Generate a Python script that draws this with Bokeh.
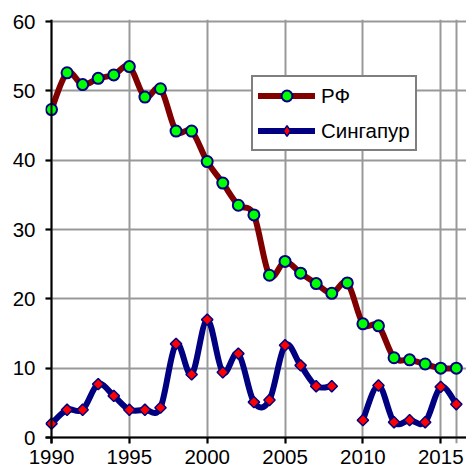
import numpy as np
from bokeh.plotting import figure
from bokeh.models import (Range1d, FixedTicker, Span, Legend, LegendItem, ColumnDataSource)
from bokeh.embed import file_html
from bokeh.resources import INLINE

years = list(range(1990, 2017))
rf = [47.3, 52.6, 50.9, 51.8, 52.3, 53.5, 49.1, 50.3, 44.2, 44.2, 39.8, 36.7, 33.5,
      32.1, 23.4, 25.4, 23.7, 22.2, 20.8, 22.3, 16.4, 16.1, 11.5, 11.2, 10.6, 10.0, 10.0]
sg = [2.0, 4.0, 4.0, 7.7, 6.0, 4.0, 4.0, 4.3, 13.5, 9.1, 17.0, 9.4, 12.1,
      5.1, 5.4, 13.3, 10.4, 7.4, 7.4, None, 2.5, 7.5, 2.2, 2.5, 2.2, 7.3, 4.8]
x_ticks = [1990, 1995, 2000, 2005, 2010, 2015]
y_ticks = [0, 10, 20, 30, 40, 50, 60]
series_names = ["РФ", "Сингапур"]

FONT = "Liberation Sans"
FSIZE = "20.5px"

# frame geometry (canvas px) -> ranges
px_year = 15.57
px_unit = 416 / 60.0
x0 = 1990 - 6 / px_year
x1 = x0 + 421 / px_year
y0 = -6 / px_unit
y1 = 60 + 2 / px_unit

p = figure(width=466, height=476, output_backend="svg", toolbar_location=None,
           x_range=Range1d(x0, x1), y_range=Range1d(y0, y1),
           min_border_left=45, min_border_right=0, min_border_top=19, min_border_bottom=33)
p.outline_line_color = None
p.background_fill_color = "white"
p.border_fill_color = "white"

for ax, ticks in ((p.xaxis[0], x_ticks), (p.yaxis[0], y_ticks)):
    ax.ticker = FixedTicker(ticks=ticks)
    ax.axis_line_color = None
    ax.major_tick_in = 6
    ax.major_tick_out = 0
    ax.major_tick_line_color = "black"
    ax.major_tick_line_width = 2
    ax.minor_tick_line_color = None
    ax.major_label_text_font = FONT
    ax.major_label_text_font_size = FSIZE
    ax.major_label_text_color = "black"
p.xaxis[0].major_label_standoff = 6
p.yaxis[0].major_label_standoff = 10

p.xgrid[0].ticker = FixedTicker(ticks=x_ticks + [2016])
p.ygrid[0].ticker = FixedTicker(ticks=y_ticks)
for g in (p.xgrid[0], p.ygrid[0]):
    g.grid_line_color = "#999999"
    g.grid_line_width = 2

p.add_layout(Span(location=1990, dimension="height", line_color="black", line_width=2))
p.add_layout(Span(location=0, dimension="width", line_color="black", line_width=2))


def bezier_source(xs, ys):
    runs, cur = [], []
    for x, y in zip(xs, ys):
        if y is None:
            if cur:
                runs.append(cur)
            cur = []
        else:
            cur.append((x, y))
    if cur:
        runs.append(cur)
    d = dict(x0=[], y0=[], x1=[], y1=[], cx0=[], cy0=[], cx1=[], cy1=[])
    for run in runs:
        P = np.array(run, dtype=float)
        n = len(P)
        for i in range(n - 1):
            pp = P[i - 1] if i > 0 else P[i]
            pn = P[i + 2] if i + 2 < n else P[i + 1]
            c1 = P[i] + (P[i + 1] - pp) / 6.0
            c2 = P[i + 1] - (pn - P[i]) / 6.0
            d["x0"].append(P[i][0]); d["y0"].append(P[i][1])
            d["x1"].append(P[i + 1][0]); d["y1"].append(P[i + 1][1])
            d["cx0"].append(c1[0]); d["cy0"].append(c1[1])
            d["cx1"].append(c2[0]); d["cy1"].append(c2[1])
    return ColumnDataSource(d)


styles = [
    dict(line="#800000", marker="circle", fill="#00FF00", size=11, angle=0.0, lw=2, legend_marker="circle"),
    dict(line="#000080", marker="square", fill="#FF0000", size=8, angle=np.pi / 4, lw=1.5, legend_marker="diamond"),
]
items = []
for name, vals, st in zip(series_names, [rf, sg], styles):
    src = bezier_source(years, vals)
    p.bezier(x0="x0", y0="y0", x1="x1", y1="y1", cx0="cx0", cy0="cy0", cx1="cx1", cy1="cy1",
             source=src, line_color=st["line"], line_width=6, line_cap="round", line_join="round")
    px = [x for x, v in zip(years, vals) if v is not None]
    py = [v for v in vals if v is not None]
    dummy = p.line(x=[np.nan], y=[np.nan], line_color=st["line"], line_width=6, line_cap="round")
    p.scatter(x=px, y=py, marker=st["marker"], size=st["size"], angle=st["angle"],
              fill_color=st["fill"], line_color="#000080", line_width=st["lw"])
    dummy_marker = p.scatter(x=[np.nan], y=[np.nan], marker=st["legend_marker"], size=12,
                             fill_color=st["fill"], line_color="#000080", line_width=st["lw"])
    items.append(LegendItem(label=name, renderers=[dummy, dummy_marker]))

legend = Legend(items=items, location=(206, 292), orientation="vertical",
                glyph_width=57, glyph_height=27, label_height=27, label_standoff=6,
                padding=5, spacing=8, margin=0,
                border_line_color="black", border_line_width=2,
                background_fill_color="white", background_fill_alpha=1.0,
                label_text_font=FONT, label_text_font_size=FSIZE, label_text_color="black")
p.add_layout(legend, "center")

open("out.html", "w").write(file_html(p, INLINE))
